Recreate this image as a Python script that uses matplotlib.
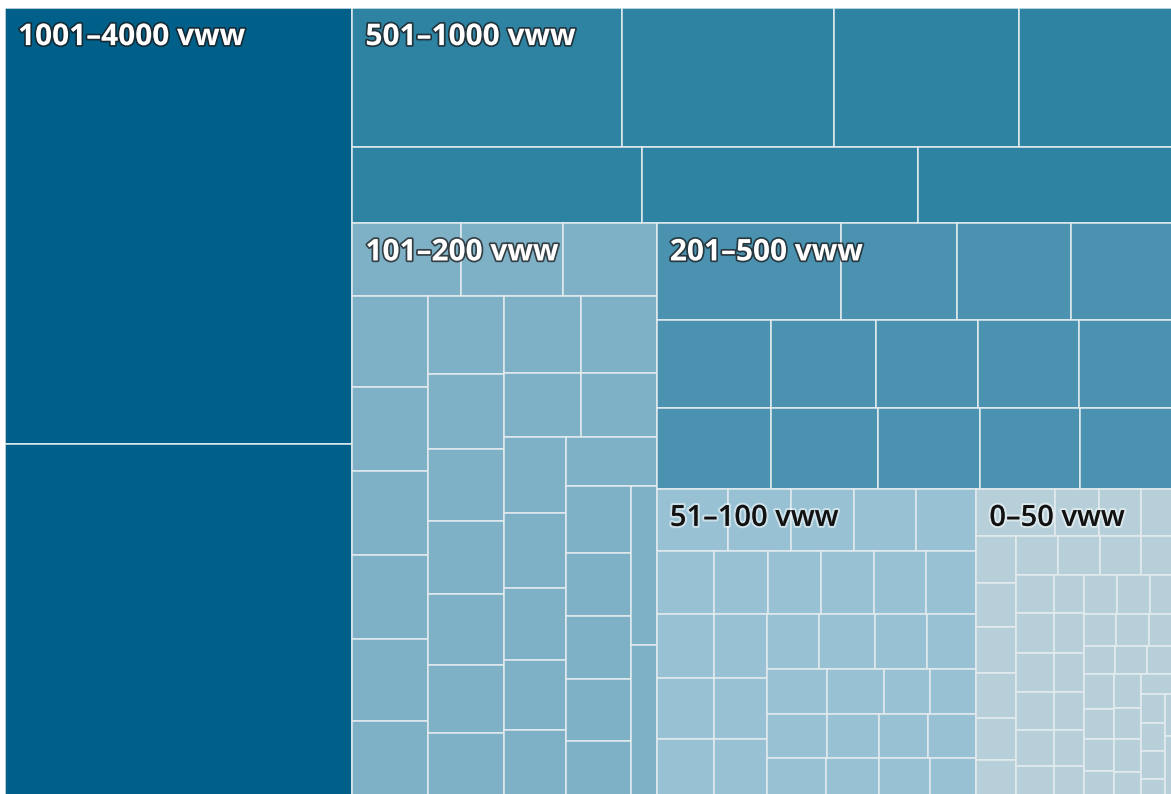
import matplotlib
matplotlib.use('Agg')
import matplotlib.pyplot as plt
from matplotlib.patches import Rectangle
import matplotlib.patheffects as pe


# groups in the order the treemap strips are cut (left, top, left, top, left, rest)
groups = ['1001\u20134000 vww', '501\u20131000 vww', '101\u2013200 vww',
          '201\u2013500 vww', '51\u2013100 vww', '0\u201350 vww']
colors = ['#006089', '#2e82a2', '#7eb0c6', '#4a92b0', '#98c2d3', '#b6cfd8']
dark_text = [False, False, False, False, True, True]

# cell values (vww), nested in the order each group gets sliced
sizes_4000 = [3594, 2900]
sizes_1000 = [[890, 702, 612, 506], [523, 499, 460]]
sizes_200 = [[189, 176, 163],
             [[163, 152, 152, 152, 148, 134],
              [138, 134, 129, 130, 127, 121, 111],
              [[141, 139], [116, 114],
               [[112, 111, 106, 102, 97],
                [106, [[104, 98, 98, 96, 84], [98, 93]]]]]]]
sizes_500 = [[425, 268, 263, 233],
             [236, 218, 211, 209, 193],
             [220, 206, 197, 191, 179]]
sizes_100 = [[105, 93, 93, 92, 89],
             [86, 81, 80, 80, 78, 75],
             [[[87, 81], [83, 77], [76, 71]],
              [[67, 71, 67, 64], [65, 62, 50, 51], [62, 54, 52, 50], [52, 46, 45, 41]]]]
sizes_50 = [[88, 49, 47, 35],
            [[45, 42, 43, 43, 40, 34],
             [[39, 39, 38, 29],
              [[[34, 27], [36, 29], [35, 28], [34, 27], [33, 26], [26, 21]],
               [[30, 31, 21], [24, 25, 18], [20, 21, 17],
                [[24, 21, 22, 17], [22, 20, 21, 15],
                 [15, [[17, 17, 16, 10], [7, 10]]]]]]]]]

group_sizes = [sizes_4000, sizes_1000, sizes_200, sizes_500, sizes_100, sizes_50]


def total(node):
    if isinstance(node, (int, float)):
        return node
    return sum(total(c) for c in node)


def slice_dice(node, x, y, w, h, across, out):
    # across=True -> children placed side by side, else stacked
    if isinstance(node, (int, float)):
        out.append((x, y, w, h))
        return
    s = total(node)
    pos = 0.0
    for child in node:
        f = total(child) / s
        if across:
            slice_dice(child, x + pos * w, y, f * w, h, not across, out)
        else:
            slice_dice(child, x, y + pos * h, w, f * h, not across, out)
        pos += f


W, H = 1166, 786
fig = plt.figure(figsize=(11.71, 7.94), dpi=100)
# the chart is cut off at the right and bottom edge of the picture
ax = fig.add_axes([5 / 1171, -1.5 / 794, (W + 1.5) / 1171, (H + 1.5) / 794])
ax.set_xlim(0, W)
ax.set_ylim(H, 0)
ax.axis('off')

# alternating strips for the groups
x, y, w, h = 0.0, 0.0, float(W), float(H)
remaining = sum(total(g) for g in group_sizes)
group_rects = []
for i, g in enumerate(group_sizes):
    t = total(g)
    if i == len(group_sizes) - 1:
        group_rects.append((x, y, w, h))
        break
    f = t / remaining
    if i % 2 == 0:
        group_rects.append((x, y, w * f, h))
        x, w = x + w * f, w * (1 - f)
    else:
        group_rects.append((x, y, w, h * f))
        y, h = y + h * f, h * (1 - f)
    remaining -= t

edge = '#e3ebee'
for g, (gx, gy, gw, gh), col in zip(group_sizes, group_rects, colors):
    cells = []
    slice_dice(g, gx, gy, gw, gh, False, cells)
    for cx, cy, cw, ch in cells:
        ax.add_patch(Rectangle((cx, cy), cw, ch, facecolor=col, edgecolor=edge, lw=1.1))

for label, (gx, gy, gw, gh), dark in zip(groups, group_rects, dark_text):
    if dark:
        ax.text(gx + 13, gy + 37, label, fontsize=21, family='Open Sans', weight='semibold',
                color='#111111',
                path_effects=[pe.withStroke(linewidth=3, foreground=(1, 1, 1, 0.5))])
    else:
        ax.text(gx + 13, gy + 37, label, fontsize=21.5, family='Open Sans', weight='bold',
                color='white',
                path_effects=[pe.withStroke(linewidth=2.5, foreground=(0.1, 0.1, 0.1, 0.75))])

fig.savefig('out.png', dpi=100, facecolor='white')
